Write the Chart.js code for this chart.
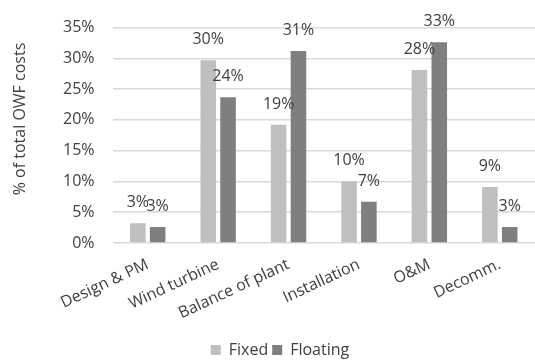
<!DOCTYPE html>
<html>
<head>
<meta charset="utf-8">
<script src="https://cdn.jsdelivr.net/npm/chart.js@4/dist/chart.umd.min.js"></script>
<style>
html,body{margin:0;padding:0;background:#fff;}
#wrap{width:535px;height:362px;position:relative;}
</style>
</head>
<body>
<div id="wrap"><canvas id="c"></canvas></div>
<script>
const categories = ["Design & PM", "Wind turbine", "Balance of plant", "Installation", "O&M", "Decomm."];
const fixedValues = [3.2, 29.7, 19.2, 10.0, 28.1, 9.1];
const floatingValues = [2.6, 23.7, 31.2, 6.7, 32.6, 2.6];
const fixedLabels = ["3%", "30%", "19%", "10%", "28%", "9%"];
const floatingLabels = ["3%", "24%", "31%", "7%", "33%", "3%"];
const yTicks = [0, 5, 10, 15, 20, 25, 30, 35];
const yTitle = "% of total OWF costs";

const FONT = "'Open Sans', sans-serif";
const TEXT = "#404040";
const FS = 16;

const labelPlugin = {
  id: 'barLabels',
  afterDatasetsDraw(chart) {
    const ctx = chart.ctx;
    ctx.save();
    ctx.font = FS + "px " + FONT;
    ctx.fillStyle = TEXT;
    ctx.textAlign = 'center';
    ctx.textBaseline = 'alphabetic';
    const sets = [fixedLabels, floatingLabels];
    chart.data.datasets.forEach((ds, di) => {
      const meta = chart.getDatasetMeta(di);
      meta.data.forEach((bar, i) => {
        ctx.fillText(sets[di][i], bar.x, bar.y - 16);
      });
    });
    ctx.restore();
  }
};

const titlePlugin = {
  id: 'yTitle',
  afterDraw(chart) {
    const ctx = chart.ctx;
    ctx.save();
    ctx.font = "16px " + FONT;
    ctx.fillStyle = TEXT;
    ctx.textAlign = 'center';
    ctx.textBaseline = 'middle';
    ctx.translate(20, 119);
    ctx.rotate(-Math.PI / 2);
    ctx.fillText(yTitle, 0, 0);
    ctx.restore();
  }
};

const legendShift = {
  id: 'legendShift',
  afterLayout(chart) {
    if (chart.legend) { chart.legend.left -= 10; chart.legend.right -= 10; }
  }
};

new Chart(document.getElementById('c'), {
  type: 'bar',
  data: {
    labels: categories,
    datasets: [
      { label: 'Fixed', data: fixedValues, backgroundColor: '#BFBFBF', categoryPercentage: 0.563, barPercentage: 0.785 },
      { label: 'Floating', data: floatingValues, backgroundColor: '#7F7F7F', categoryPercentage: 0.563, barPercentage: 0.785 }
    ]
  },
  options: {
    responsive: true,
    maintainAspectRatio: false,
    animation: false,
    devicePixelRatio: 1,
    layout: { padding: { left: 45, right: 0, top: 19, bottom: -6 } },
    plugins: {
      legend: {
        position: 'bottom',
        labels: { boxWidth: 10, boxHeight: 10, color: TEXT, font: { family: FONT, size: FS }, padding: 4 }
      },
      tooltip: { enabled: false }
    },
    scales: {
      x: {
        grid: { display: false },
        border: { display: false },
        afterFit(axis) { axis.height = 95; },
        ticks: { color: TEXT, font: { family: FONT, size: FS }, minRotation: 25, maxRotation: 25, autoSkip: false, padding: 4 }
      },
      y: {
        min: 0, max: 35,
        afterBuildTicks(axis) { axis.ticks = yTicks.map(v => ({ value: v })); },
        grid: { color: '#D9D9D9', lineWidth: 1.5, drawTicks: false },
        border: { display: false },
        ticks: { color: TEXT, font: { family: FONT, size: FS }, padding: 18, callback: v => v + '%' }
      }
    }
  },
  plugins: [labelPlugin, titlePlugin, legendShift]
});
</script>
</body>
</html>
